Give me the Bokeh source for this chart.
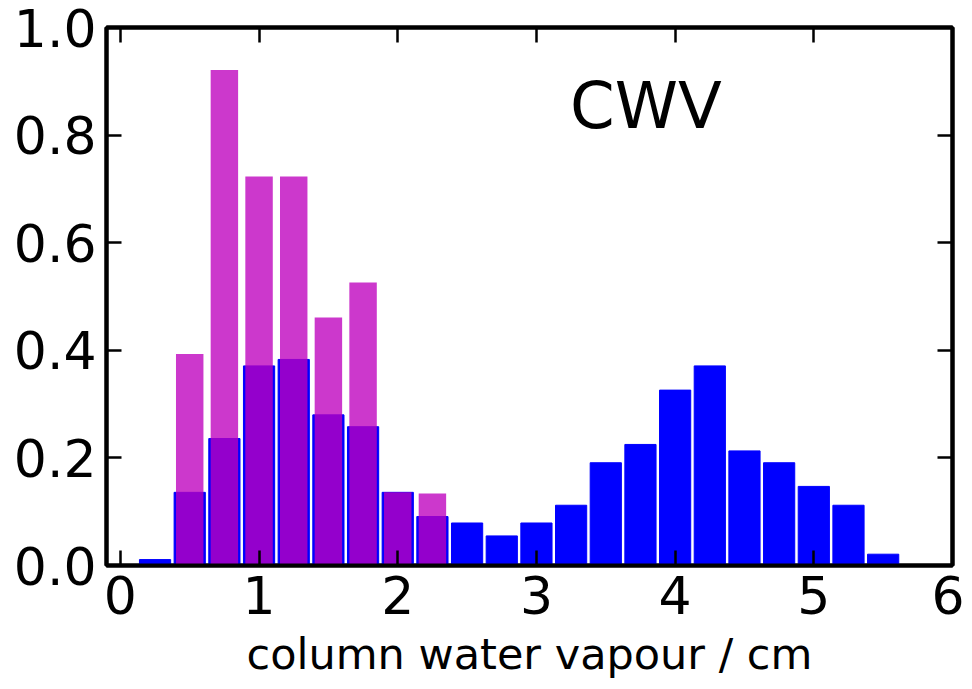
from bokeh.plotting import figure
from bokeh.models import Range1d, FixedTicker, LinearAxis, Label, CustomJSTickFormatter
from bokeh.embed import file_html
from bokeh.resources import INLINE

# bin centres (cm) and normalised frequencies
blue_x = [0.25, 0.5, 0.75, 1.0, 1.25, 1.5, 1.75, 2.0, 2.25, 2.5, 2.75, 3.0,
          3.25, 3.5, 3.75, 4.0, 4.25, 4.5, 4.75, 5.0, 5.25, 5.5]
blue_y = [0.011, 0.136, 0.236, 0.371, 0.383, 0.280, 0.258, 0.136, 0.091, 0.079, 0.055, 0.079,
          0.112, 0.191, 0.225, 0.326, 0.371, 0.213, 0.191, 0.147, 0.112, 0.021]
mag_x = [0.5, 0.75, 1.0, 1.25, 1.5, 1.75, 2.0, 2.25]
mag_y = [0.393, 0.921, 0.723, 0.723, 0.461, 0.526, 0.136, 0.134]

x_ticks = [0, 1, 2, 3, 4, 5, 6]
y_ticks = [0.0, 0.2, 0.4, 0.6, 0.8, 1.0]
panel_label = "CWV"
x_label = "column water vapour / cm"

FONT = "DejaVu Sans"

p = figure(width=964, height=681, output_backend="svg", toolbar_location=None,
           x_range=Range1d(-0.1, 6.0), y_range=Range1d(0.0, 1.0),
           min_border_left=106, min_border_top=27, min_border_right=12, min_border_bottom=116)
p.grid.visible = False
p.background_fill_color = "white"
p.border_fill_color = "white"
p.outline_line_color = "black"
p.outline_line_width = 4

p.vbar(x=blue_x, top=blue_y, width=0.225, bottom=0,
       fill_color="#0000ff", line_color="#0000ff", line_width=1)
p.vbar(x=mag_x, top=mag_y, width=0.198, bottom=0,
       fill_color="#be00be", fill_alpha=0.78, line_color=None)

def style(ax, labels=True):
    ax.axis_line_color = "black"
    ax.axis_line_width = 4
    ax.major_tick_in = 15
    ax.major_tick_out = 0
    ax.minor_tick_line_color = None
    ax.major_tick_line_width = 2.5
    ax.major_tick_line_color = "black"
    if labels:
        ax.major_label_text_font = FONT
        ax.major_label_text_font_size = "52px"
        ax.major_label_text_color = "black"
    else:
        ax.major_label_text_font_size = "0px"
        ax.major_label_text_alpha = 0
        ax.major_label_standoff = 0

xa = p.xaxis[0]
style(xa)
xa.ticker = FixedTicker(ticks=x_ticks)
xa.major_label_standoff = 10
xa.axis_label = x_label
xa.axis_label_text_font = FONT
xa.axis_label_text_font_size = "43px"
xa.axis_label_text_font_style = "normal"
xa.axis_label_text_color = "black"
xa.axis_label_standoff = 12

ya = p.yaxis[0]
style(ya)
ya.ticker = FixedTicker(ticks=y_ticks)
ya.formatter = CustomJSTickFormatter(code="return tick.toFixed(1);")
ya.major_label_standoff = 10

top_ax = LinearAxis(ticker=FixedTicker(ticks=x_ticks))
style(top_ax, labels=False)
p.add_layout(top_ax, "above")
right_ax = LinearAxis(ticker=FixedTicker(ticks=y_ticks))
style(right_ax, labels=False)
p.add_layout(right_ax, "right")

p.add_layout(Label(x=3.79, y=0.855, text=panel_label, text_font=FONT,
                   text_font_size="64px", text_align="center", text_baseline="middle",
                   text_color="black"))

open("out.html", "w").write(file_html(p, INLINE))
